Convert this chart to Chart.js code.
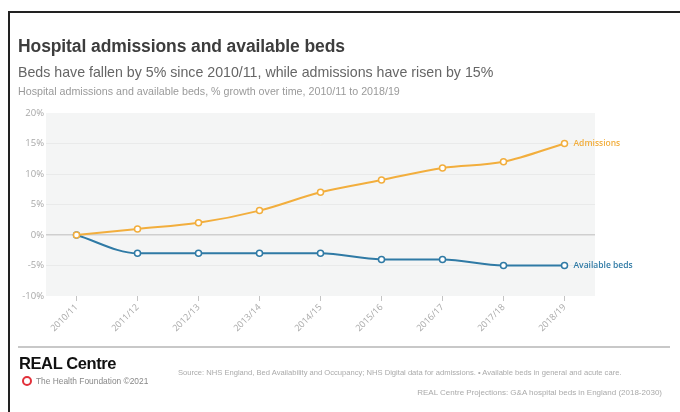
<!DOCTYPE html>
<html>
<head>
<meta charset="utf-8">
<script src="https://cdn.jsdelivr.net/npm/chart.js@4/dist/chart.umd.min.js"></script>
<style>
  html, body { margin: 0; padding: 0; background: #fff; }
  #wrap { position: relative; width: 680px; height: 412px; overflow: hidden; font-family: "Liberation Sans", Arial, sans-serif; }
  #frame { position: absolute; left: 8px; top: 11px; width: 690px; height: 420px; border-left: 2px solid #222; border-top: 2px solid #222; box-sizing: border-box; }
  canvas { position: absolute; left: 0; top: 0; }
  .t { position: absolute; white-space: nowrap; }
  #title { left: 18px; top: 36px; font-size: 17.5px; font-weight: bold; color: #3d3d3d; letter-spacing: -0.1px; }
  #sub { left: 18px; top: 64px; font-size: 14.2px; color: #666; }
  #desc { left: 18px; top: 85px; font-size: 10.7px; color: #9a9a9a; }
  #rule { position: absolute; left: 18px; top: 346px; width: 652px; height: 2px; background: #c8c8c8; }
  #brand { left: 19px; top: 354px; font-size: 16.5px; font-weight: bold; color: #111; letter-spacing: -0.4px; }
  #org { left: 36px; top: 376px; font-size: 8.4px; color: #888; }
  #pin { position: absolute; left: 22px; top: 376px; width: 6px; height: 6px; border: 2px solid #e2313b; border-radius: 50%; }
  #src { left: 178px; top: 368px; font-size: 7.6px; color: #aaa; }
  #proj { right: 18px; top: 388px; font-size: 8px; color: #aaa; }
</style>
</head>
<body>
<div id="wrap">
  <canvas id="c" width="680" height="412"></canvas>
  <div id="frame"></div>
  <div class="t" id="title">Hospital admissions and available beds</div>
  <div class="t" id="sub">Beds have fallen by 5% since 2010/11, while admissions have risen by 15%</div>
  <div class="t" id="desc">Hospital admissions and available beds, % growth over time, 2010/11 to 2018/19</div>
  <div id="rule"></div>
  <div class="t" id="brand">REAL Centre</div>
  <div id="pin"></div>
  <div class="t" id="org">The Health Foundation ©2021</div>
  <div class="t" id="src">Source: NHS England, Bed Availability and Occupancy; NHS Digital data for admissions. • Available beds in general and acute care.</div>
  <div class="t" id="proj">REAL Centre Projections: G&amp;A hospital beds in England (2018-2030)</div>
</div>
<script>
const years = ["2010/11","2011/12","2012/13","2013/14","2014/15","2015/16","2016/17","2017/18","2018/19"];
const admissions = [0, 1, 2, 4, 7, 9, 11, 12, 15];
const availableBeds = [0, -3, -3, -3, -3, -4, -4, -5, -5];
const yTicks = [20, 15, 10, 5, 0, -5, -10];
const seriesNames = ["Admissions", "Available beds"];

const ORANGE = "#f2ae3d";
const BLUE = "#2f7aa5";

const bgPlugin = {
  id: "plotBg",
  beforeDraw(chart) {
    const { ctx, chartArea: a } = chart;
    ctx.save();
    ctx.fillStyle = "#f4f5f5";
    ctx.fillRect(a.left, a.top, a.right - a.left, a.bottom - a.top);
    ctx.restore();
  }
};

const endLabels = {
  id: "endLabels",
  afterDatasetsDraw(chart) {
    const { ctx } = chart;
    ctx.save();
    ctx.font = "600 8.5px 'Open Sans', sans-serif";
    ctx.textBaseline = "middle";
    chart.data.datasets.forEach((ds, i) => {
      const meta = chart.getDatasetMeta(i);
      const p = meta.data[meta.data.length - 1];
      ctx.fillStyle = ds.borderColor;
      ctx.fillText(ds.label, p.x + 9, p.y);
    });
    ctx.restore();
  }
};

new Chart(document.getElementById("c"), {
  type: "line",
  data: {
    labels: years,
    datasets: [
      {
        label: seriesNames[0],
        data: admissions,
        borderColor: ORANGE,
        backgroundColor: "#fff",
        borderWidth: 2,
        pointRadius: 3,
        pointBorderWidth: 1.5,
        pointBackgroundColor: "#fff",
        pointBorderColor: ORANGE,
        cubicInterpolationMode: "monotone"
      },
      {
        label: seriesNames[1],
        data: availableBeds,
        borderColor: BLUE,
        backgroundColor: "#fff",
        borderWidth: 2,
        pointRadius: 3,
        pointBorderWidth: 1.5,
        pointBackgroundColor: "#fff",
        pointBorderColor: BLUE,
        cubicInterpolationMode: "monotone"
      }
    ]
  },
  options: {
    responsive: false,
    animation: false,
    devicePixelRatio: 1,
    layout: { padding: { left: 0, top: 113, right: 85, bottom: 66 } },
    plugins: { legend: { display: false }, tooltip: { enabled: false } },
    scales: {
      x: {
        offset: true,
        border: { display: false },
        grid: { display: true, drawOnChartArea: false, drawTicks: true, tickLength: 5, color: "#c4c4c4", offset: false },
        ticks: {
          minRotation: 45, maxRotation: 45, padding: 1,
          color: "#a8a8a8",
          font: { family: "'Open Sans', sans-serif", size: 9 }
        },
        afterFit(s) { s.height = 50; }
      },
      y: {
        min: -10, max: 20,
        border: { display: false },
        afterBuildTicks(s) { s.ticks = yTicks.map(v => ({ value: v })); },
        grid: {
          drawTicks: false,
          color: (c) => c.tick && c.tick.value === 0 ? "#cfcfcf" : (c.tick && (c.tick.value === 20 || c.tick.value === -10) ? "rgba(0,0,0,0)" : "#e9eaea"),
          lineWidth: (c) => c.tick && c.tick.value === 0 ? 1.6 : 1
        },
        ticks: {
          padding: 2,
          color: "#a8a8a8",
          font: { family: "'Open Sans', sans-serif", size: 9.5 },
          callback: (v) => v + "%"
        },
        afterFit(s) { s.width = 46; }
      }
    }
  },
  plugins: [bgPlugin, endLabels]
});
</script>
</body>
</html>
